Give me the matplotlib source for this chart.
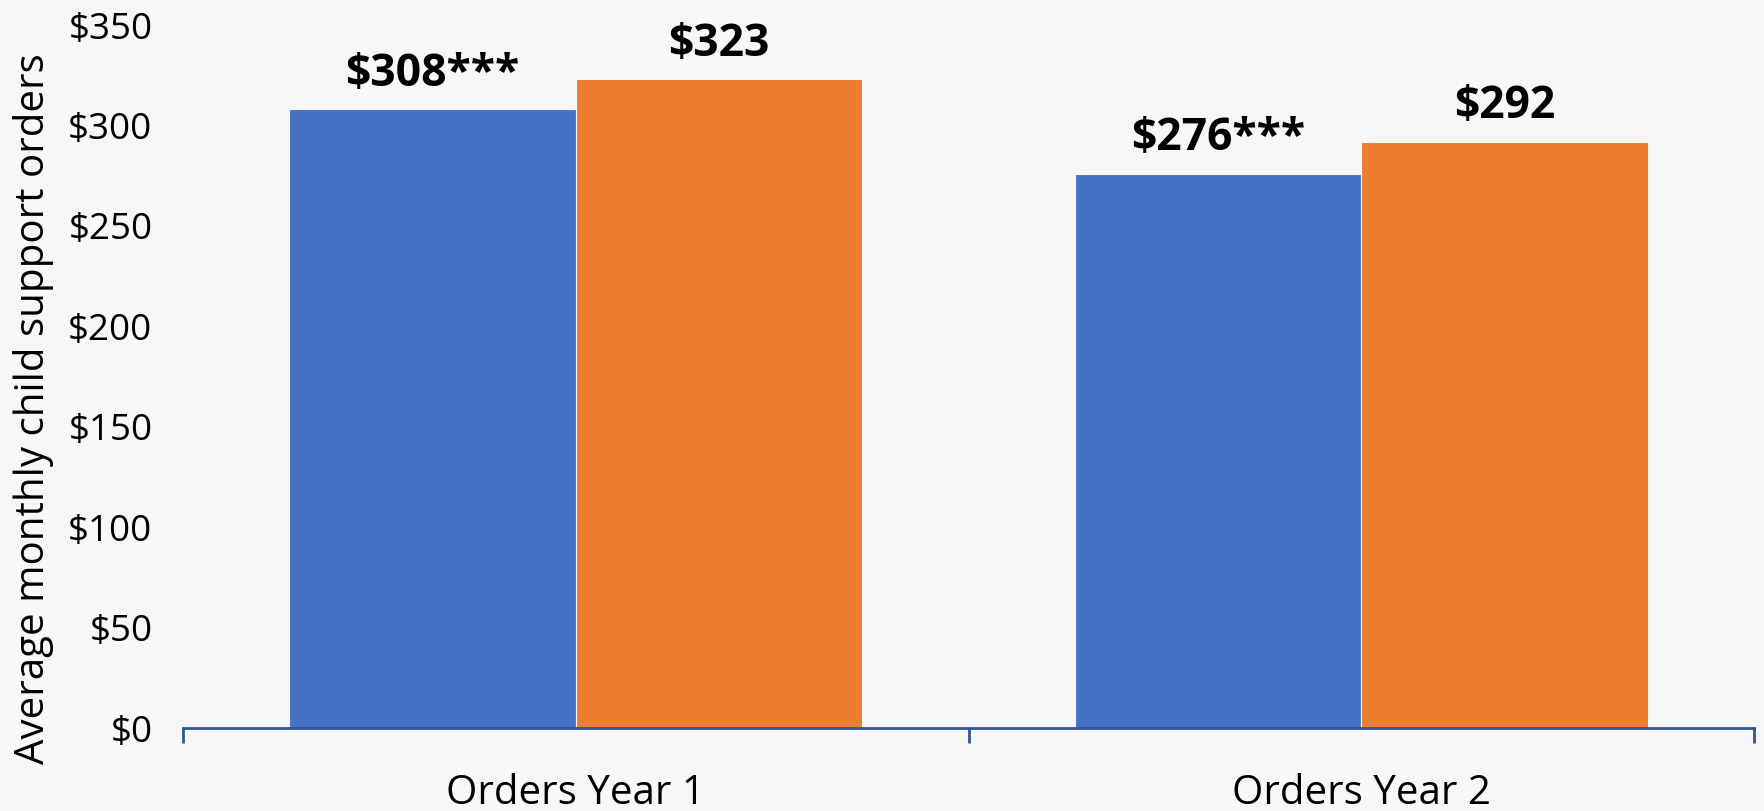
import matplotlib
matplotlib.use("Agg")
import matplotlib.pyplot as plt
import numpy as np

# 每月子女撫養費平均金額
categories = ["Orders Year 1", "Orders Year 2"]
series_a = [308, 276]
series_b = [323, 292]
labels_a = ["$308***", "$276***"]
labels_b = ["$323", "$292"]
y_ticks = [0, 50, 100, 150, 200, 250, 300, 350]

plt.rcParams['font.family'] = ['Open Sans', 'DejaVu Sans']

bg = '#F7F7F7'
blue = '#4472C4'
orange = '#ED7D31'
axis_col = '#2F5597'

fig = plt.figure(figsize=(17.65, 8.11), dpi=100, facecolor=bg)
ax = fig.add_axes([0.1037, 0.1023, 0.8901, 0.8667], facecolor=bg)

x = np.arange(len(categories))
w = 0.365
bars_a = ax.bar(x - w / 2, series_a, w, color=blue, edgecolor=bg, linewidth=0.8)
bars_b = ax.bar(x + w / 2, series_b, w, color=orange, edgecolor=bg, linewidth=0.8)

for bars, texts in ((bars_a, labels_a), (bars_b, labels_b)):
    for b, t in zip(bars, texts):
        ax.annotate(t, (b.get_x() + b.get_width() / 2, b.get_height()),
                    xytext=(0, 9), textcoords='offset points',
                    ha='center', va='bottom', fontsize=32, fontweight='bold')

ax.set_xlim(-0.5, 1.5)
ax.set_ylim(0, 350)
ax.set_yticks(y_ticks)
ax.set_yticklabels([f"${v}" for v in y_ticks], fontsize=26.5)
ax.tick_params(axis='y', length=0, pad=22)

# 類別之間的分隔刻度
ax.set_xticks([-0.5, 0.5, 1.5])
ax.set_xticklabels([])
ax.set_xticks(x, minor=True)
ax.set_xticklabels(categories, minor=True, fontsize=29)
ax.tick_params(axis='x', which='major', length=11, width=2, color=axis_col, direction='out')
ax.tick_params(axis='x', which='minor', length=0, pad=33)

for s in ('top', 'right', 'left'):
    ax.spines[s].set_visible(False)
ax.spines['bottom'].set_color(axis_col)
ax.spines['bottom'].set_linewidth(2)

ax.set_ylabel("Average monthly child support orders", fontsize=29, va='center')
ax.yaxis.set_label_coords(-0.095, 0.455)

fig.savefig("out.png", dpi=100, facecolor=bg)
